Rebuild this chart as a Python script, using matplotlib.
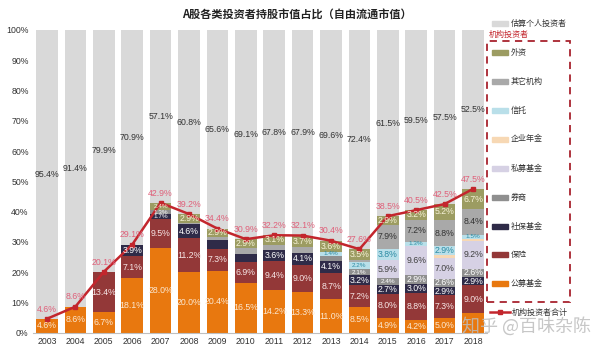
import numpy as np
import matplotlib
matplotlib.use('Agg')
import matplotlib.pyplot as plt
from matplotlib.patches import Rectangle
from matplotlib.lines import Line2D

plt.rcParams['font.family'] = ['Liberation Sans', 'Noto Sans CJK SC', 'DejaVu Sans']

years = [2003, 2004, 2005, 2006, 2007, 2008, 2009, 2010,
         2011, 2012, 2013, 2014, 2015, 2016, 2017, 2018]

# 估算个人投资者 / 机构投资者合计 (%)
individual = [95.4, 91.4, 79.9, 70.9, 57.1, 60.8, 65.6, 69.1,
              67.8, 67.9, 69.6, 72.4, 61.5, 59.5, 57.5, 52.5]
inst_total = [4.6, 8.6, 20.1, 29.1, 42.9, 39.2, 34.4, 30.9,
              32.2, 32.1, 30.4, 27.6, 38.5, 40.5, 42.5, 47.5]

# institution breakdown, bottom to top (%)
public_fund = [4.6, 8.6, 6.7, 18.1, 28.0, 20.0, 20.4, 16.5, 14.2, 13.3, 11.0, 8.5, 4.9, 4.2, 5.0, 6.6]
insurance = [0, 0, 13.4, 7.1, 9.5, 11.2, 7.3, 6.9, 9.4, 9.0, 8.7, 7.2, 8.0, 8.8, 7.3, 9.0]
social_fund = [0, 0, 0, 3.9, 1.7, 4.6, 2.8, 2.7, 3.6, 4.1, 4.1, 3.2, 2.7, 3.0, 2.9, 2.9]
broker = [0, 0, 0, 0, 1.3, 0, 0, 0, 0, 0, 1.6, 2.1, 2.4, 2.9, 2.6, 2.6]
private_fund = [0, 0, 0, 0, 0, 0, 0, 0, 0, 0, 0, 0, 5.9, 9.6, 7.0, 9.2]
annuity = [0, 0, 0, 0, 0, 0, 0, 0, 0, 0, 0, 0, 0, 0.3, 0.8, 0.6]
trust = [0, 0, 0, 0, 0, 0, 0, 0, 0, 0, 1.4, 2.2, 3.8, 1.3, 2.9, 1.5]
other_inst = [0, 0, 0, 0, 0, 0.5, 1.0, 1.9, 1.9, 2.0, 0, 0.9, 7.9, 7.2, 8.8, 8.4]
foreign = [0, 0, 0, 0, 2.4, 2.9, 2.9, 2.9, 3.1, 3.7, 3.6, 3.5, 2.9, 3.2, 5.2, 6.7]

# (name, values, fill colour, label colour)
layers = [
    ('公募基金', public_fund, '#e8780f', '#fbe8d2'),
    ('保险', insurance, '#933838', '#f6e6e6'),
    ('社保基金', social_fund, '#2f2b48', '#ffffff'),
    ('券商', broker, '#8f8f8f', '#ffffff'),
    ('私募基金', private_fund, '#d6d1e4', '#404040'),
    ('企业年金', annuity, '#f7d8b4', '#404040'),
    ('信托', trust, '#b9dfe9', '#2b8ba3'),
    ('其它机构', other_inst, '#a9a9a9', '#333333'),
    ('外资', foreign, '#9c9c62', '#f7f3d8'),
]

# segments whose label is not shown in the source
no_label = {('社保基金', 2009), ('社保基金', 2010), ('其它机构', 2010),
            ('其它机构', 2011), ('其它机构', 2012), ('券商', 2013),
            ('公募基金', 2018)}

W, H = 607, 352


def fx(px):
    return px / W


def fy(py):
    return 1 - py / H


fig = plt.figure(figsize=(W / 100, H / 100), dpi=100)
ax = fig.add_axes([0.054, 0.0548, 0.7487, 0.86])

x = np.arange(len(years))
bw = 0.76

# individual investors on top of institutions
ax.bar(x, individual, bottom=inst_total, width=bw, color='#d9d9d9', zorder=2)
for i in range(len(years)):
    ax.text(x[i], inst_total[i] + individual[i] / 2, f'{individual[i]:.1f}%',
            ha='center', va='center', fontsize=6.3, color='#333333', zorder=6)

bottom = np.zeros(len(years))
for name, vals, col, tcol in layers:
    vals = np.array(vals, dtype=float)
    ax.bar(x, vals, bottom=bottom, width=bw, color=col, zorder=2)
    for i, v in enumerate(vals):
        if v >= 1.3 and (name, years[i]) not in no_label:
            fs = 6.3 if v >= 2.5 else 4.6
            ax.text(x[i], bottom[i] + v / 2, f'{v:.1f}%', ha='center', va='center',
                    fontsize=fs, color=tcol, zorder=6)
    bottom += vals

ax.plot(x, inst_total, color='#c3262d', lw=1.8, marker='s', ms=3.5, zorder=5)
for i in range(len(years)):
    ax.annotate(f'{inst_total[i]:.1f}%', (x[i], inst_total[i]), xytext=(0, 7),
                textcoords='offset points', ha='center', va='center',
                fontsize=6.3, color='#e0607a', zorder=7)

ax.set_xlim(-0.5, len(years) - 0.5)
ax.set_ylim(0, 100)
ax.set_xticks(x)
ax.set_xticklabels([str(y) for y in years], fontsize=6.3, color='#333333')
ax.set_yticks(np.arange(0, 101, 10))
ax.set_yticklabels([f'{t}%' for t in range(0, 101, 10)], fontsize=6.3, color='#333333')
ax.tick_params(length=0, pad=3)
for s in ['top', 'right', 'left']:
    ax.spines[s].set_visible(False)
ax.spines['bottom'].set_color('#bfbfbf')
ax.spines['bottom'].set_linewidth(0.8)

fig.text(fx(297), fy(14), 'A股各类投资者持股市值占比（自由流通市值）',
         ha='center', va='center', fontsize=8, fontweight='bold',
         family=['Noto Sans CJK SC', 'DejaVu Sans'], color='#222222')

# legend, drawn by hand to follow the source layout
cjk = ['Noto Sans CJK SC', 'DejaVu Sans']
sw_x0, sw_w, sw_h = 492, 16, 5


def swatch(py, color, label, tcolor='#333333'):
    fig.patches.append(Rectangle((fx(sw_x0), fy(py) - sw_h / H / 2), sw_w / W, sw_h / H,
                                 transform=fig.transFigure, color=color, zorder=3))
    fig.text(fx(511), fy(py), label, ha='left', va='center', fontsize=5.8,
             family=cjk, color=tcolor)


swatch(23, '#d9d9d9', '估算个人投资者')
fig.text(fx(489), fy(34), '机构投资者', ha='left', va='center', fontsize=5.8,
         family=cjk, color='#c3262d')

legend_y = [283, 254, 226, 197, 168, 139, 110, 81, 52]
for (name, vals, col, tcol), py in zip(layers, legend_y):
    swatch(py, col, name)

fig.patches.append(Rectangle((fx(487), fy(302)), (570 - 487) / W, (302 - 41) / H,
                             transform=fig.transFigure, fill=False, ls=(0, (4, 3)),
                             ec='#a8232e', lw=1.3))

# line entry for 机构投资者合计
fig.lines.append(Line2D([fx(490), fx(510)], [fy(312), fy(312)], transform=fig.transFigure,
                        color='#c3262d', lw=1.8))
fig.lines.append(Line2D([fx(500)], [fy(312)], transform=fig.transFigure,
                        color='#c3262d', marker='s', ms=3.5, ls='none'))
fig.text(fx(512), fy(312), '机构投资者合计', ha='left', va='center', fontsize=5.8,
         family=cjk, color='#333333')

# watermark
fig.text(fx(527), fy(326), '知乎 @百味杂陈', ha='center', va='center', fontsize=13,
         family=cjk, color='#bdbdbd', alpha=0.85, zorder=10)

fig.savefig('out.png', dpi=100)
